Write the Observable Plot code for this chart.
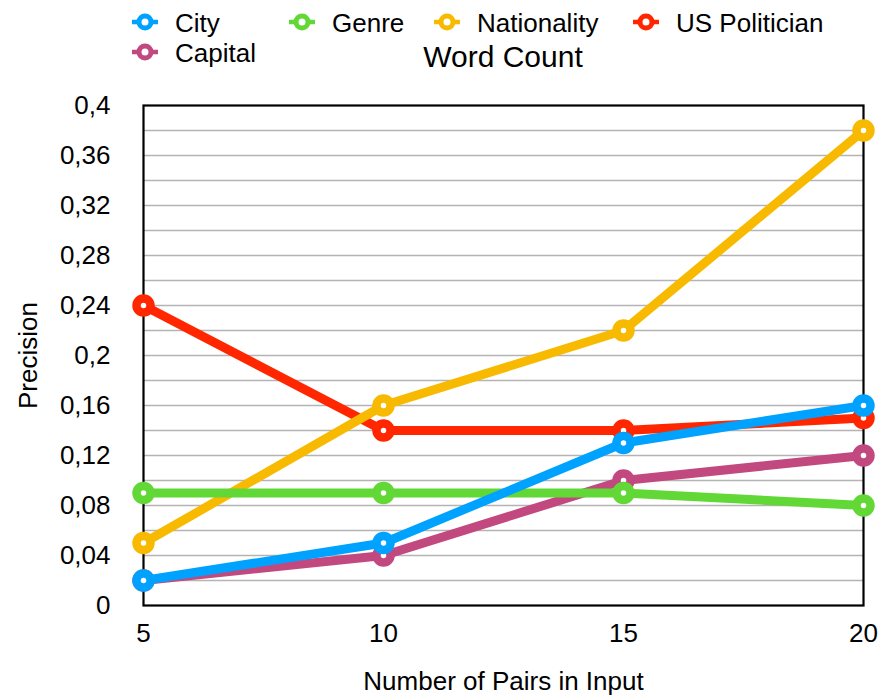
<!DOCTYPE html>
<html>
<head>
<meta charset="utf-8">
<script src="https://cdn.jsdelivr.net/npm/d3@7"></script>
<script src="https://cdn.jsdelivr.net/npm/@observablehq/plot@0.6"></script>
<style>
  body { margin: 0; background: #fff; }
  #chart { position: relative; width: 883px; height: 698px; font-family: "Liberation Sans", Arial, sans-serif; }
  #chart > svg.overlay { position: absolute; left: 0; top: 0; }
</style>
</head>
<body>
<div id="chart"></div>
<script>
// Number of example pairs given in the input
const pairs = [5, 10, 15, 20];

// Precision per relation type
const city = [0.02, 0.05, 0.13, 0.16];
const capital = [0.02, 0.04, 0.10, 0.12];
const genre = [0.09, 0.09, 0.09, 0.08];
const nationality = [0.05, 0.16, 0.22, 0.38];
const usPolitician = [0.24, 0.14, 0.14, 0.15];

const seriesNames = ["City", "Capital", "Genre", "Nationality", "US Politician"];
const seriesValues = [city, capital, genre, nationality, usPolitician];
const seriesColors = ["#00a2ff", "#c1497f", "#61d836", "#f8ba00", "#ff2600"];

// Legend reads left to right, wrapping onto a second row
const legendOrder = ["City", "Genre", "Nationality", "US Politician", "Capital"];
// Stacking order of the series, bottom first
const drawOrder = ["Capital", "US Politician", "Nationality", "Genre", "City"];

const yTicks = [0, 0.04, 0.08, 0.12, 0.16, 0.2, 0.24, 0.28, 0.32, 0.36, 0.4];
const yGrid = [0.02, 0.04, 0.06, 0.08, 0.1, 0.12, 0.14, 0.16, 0.18, 0.2,
               0.22, 0.24, 0.26, 0.28, 0.3, 0.32, 0.34, 0.36, 0.38];

const chartTitle = "Word Count";
const xTitle = "Number of Pairs in Input";
const yTitle = "Precision";

const colorOf = Object.fromEntries(seriesNames.map((s, i) => [s, seriesColors[i]]));
const rows = seriesNames.flatMap((s, i) =>
  pairs.map((p, j) => ({series: s, pairs: p, precision: seriesValues[i][j]})));

const commaFmt = d => String(+d.toFixed(2)).replace(".", ",");

const seriesMarks = drawOrder.flatMap(s => {
  const data = rows.filter(r => r.series === s);
  return [
    Plot.line(data, {x: "pairs", y: "precision", stroke: colorOf[s], strokeWidth: 9,
                     strokeLinejoin: "round", strokeLinecap: "round"}),
    Plot.dot(data, {x: "pairs", y: "precision", r: 7, fill: "white",
                    stroke: colorOf[s], strokeWidth: 8.5})
  ];
});

const plot = Plot.plot({
  width: 883,
  height: 698,
  marginLeft: 143,
  marginRight: 20,
  marginTop: 105,
  marginBottom: 93,
  style: {fontFamily: "'Liberation Sans', Arial, sans-serif", fontSize: "26px", color: "#000", background: "#fff"},
  x: {domain: [5, 20]},
  y: {domain: [0, 0.4]},
  marks: [
    Plot.ruleY(yGrid, {stroke: "#b4b4b4", strokeWidth: 1.6}),
    Plot.frame({stroke: "#000", strokeWidth: 2.2}),
    Plot.axisY({ticks: yTicks, tickSize: 0, tickPadding: 33, tickFormat: commaFmt, label: null, fontSize: 26}),
    Plot.axisX({ticks: pairs, tickSize: 0, tickPadding: 18, tickFormat: d => String(d), label: null, fontSize: 26}),
    Plot.text([xTitle], {text: d => d, frameAnchor: "bottom", dy: 76, lineAnchor: "middle", textAnchor: "middle", fontSize: 26, fill: "#000"}),
    Plot.text([yTitle], {text: d => d, frameAnchor: "left", dx: -115, rotate: -90, lineAnchor: "middle", textAnchor: "middle", fontSize: 26, fill: "#000"}),
    ...seriesMarks
  ]
});

const chart = document.getElementById("chart");
chart.appendChild(plot);

// Legend and title overlay above the plot area
const legendPos = {
  "City": [145, 22],
  "Genre": [302, 22],
  "Nationality": [447, 22],
  "US Politician": [646, 22],
  "Capital": [145, 52]
};
const overlay = d3.select(chart).append("svg")
  .attr("class", "overlay")
  .attr("width", 883).attr("height", 100)
  .style("font-family", "'Liberation Sans', Arial, sans-serif");

legendOrder.forEach(s => {
  const [cx, cy] = legendPos[s];
  const g = overlay.append("g").attr("transform", `translate(${cx},${cy})`);
  g.append("line").attr("x1", -13).attr("x2", 13).attr("y1", 0).attr("y2", 0)
    .attr("stroke", colorOf[s]).attr("stroke-width", 4.5);
  g.append("circle").attr("r", 6).attr("fill", "white")
    .attr("stroke", colorOf[s]).attr("stroke-width", 5);
  g.append("text").attr("x", 30).attr("y", 9.5).attr("font-size", 26).attr("fill", "#000").text(s);
});

overlay.append("text").attr("x", 503).attr("y", 67).attr("text-anchor", "middle")
  .attr("font-size", 30).attr("fill", "#000").text(chartTitle);
</script>
</body>
</html>
